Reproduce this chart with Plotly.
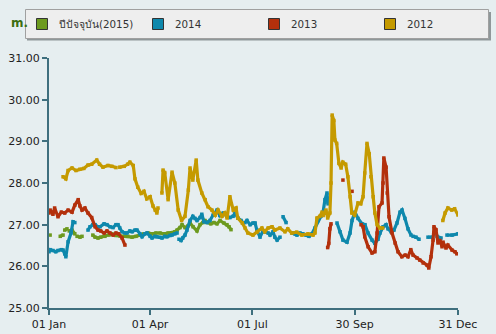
import plotly.graph_objects as go

# Day-of-year (0 = 01 Jan) and water level, None marks a gap in the record
days_2015 = [1, None, 10, 12.5, None, 14, 16, None, 18, 20.5, 23, None, 25, 27.6, 29.4, None,
             39, 41, 43.6, 46, 49.8, 53.4, 56, 59.6, 63, 66.8, 70.3, 73.9, 77.4, 81, 84.5, 88,
             91.7, 95.2, 98.8, 102.3, 106, 109.5, 112, 114, 116.6, 118.4, 121, 123.7, 125.5,
             128.2, 131.7, 134.4, 137, 138.8, 141.5, 144, 146.8, 149.5, 152.2, 155.7, 158.4,
             160.2, 162]
level_2015 = [26.75, None, 26.72, 26.75, None, 26.87, 26.9, None, 26.85, 26.87, 26.78, None,
              26.72, 26.70, 26.72, None,
              26.75, 26.70, 26.68, 26.70, 26.72, 26.75, 26.78, 26.74, 26.73, 26.72, 26.72,
              26.70, 26.72, 26.76, 26.78, 26.80, 26.78, 26.80, 26.80, 26.78, 26.80, 26.80,
              26.83, 26.87, 26.93, 27.00, 26.93, 26.97, 27.04, 26.95, 26.85, 27.00, 27.05,
              27.10, 27.05, 27.02, 27.05, 27.02, 27.10, 27.04, 27.00, 26.95, 26.88]

days_2014 = [0, 1, 3.5, 6, 8, 11, 12.5, 14, 15, 17, 19.6, 21.4, 23, None,
             34.7, 36.5, 39, 41, 43.6, 45.4, 49, 51.6, 54.3, 57, 59.6, 61.4, 63, 65, 67.6,
             69.4, 72, 74, 76.5, 78.3, 81, 82.8, 85.4, 87.2, 90, 91.7, 94.3, 96, 98.8, 100.6,
             103, 105, 107.7, 109.5, 112, 114, None,
             115.7, 117.5, 119, 121, 122.8, 125.5, 128, 130, 131.7, 134.4, 136, 137.9, 140.6,
             143.3, 146, 149.5, 152, 155, 158.4, 161, 163.8, 165.5, 168, 170.9, 172.7, 174.4,
             176.2, 179, 181.5, 183.4, 185, 187.8, 190.5, 192, 195, 196.7, 199.4, 201, 203,
             205.6, None, 208.3, 211, None,
             216.3, 219, 220.7, 223.4, 226, 228.7, 231.4, 234, 236.7, 239.4, 242, 243.9,
             245.6, 247.4, 248.3, None,
             256.3, 259, 261.6, 265.2, 267.9, 269.7, 272.3, 275, 278.6, 281.2, 283.9, 287.5,
             290, 292.8, 294.6, 297.3, 300, 301.7, 304.4, 307, 309.7, 312.4, 314.2, 316.8,
             319.5, 322.2, None, 324, 326.6, 329.3, None, 337.3, 340.9, None, 345.3, 348.9,
             None, 354.2, 358.7, 364]
level_2014 = [26.35, 26.40, 26.38, 26.35, 26.38, 26.40, 26.39, 26.30, 26.23, 26.59, 26.80,
              27.07, 27.05, None,
              26.87, 26.95, 27.00, 27.00, 26.95, 26.95, 27.02, 27.00, 26.95, 26.93, 27.00,
              27.00, 26.92, 26.83, 26.80, 26.80, 26.85, 26.83, 26.87, 26.87, 26.78, 26.71,
              26.78, 26.80, 26.72, 26.68, 26.72, 26.71, 26.70, 26.68, 26.72, 26.71, 26.74,
              26.75, 26.78, 26.80, None,
              26.65, 26.62, 26.68, 26.75, 26.87, 27.10, 27.20, 27.15, 27.10, 27.17, 27.25,
              27.07, 27.05, 27.10, 27.23, 27.35, 27.22, 27.28, 27.20, 27.17, 27.20, 27.28,
              27.16, 27.10, 27.04, 27.05, 27.10, 27.00, 27.04, 27.04, 26.87, 26.70, 26.85,
              26.83, 26.80, 26.75, 26.83, 26.70, 26.63, 26.70, None, 27.19, 27.05, None,
              26.80, 26.78, 26.75, 26.80, 26.78, 26.75, 26.72, 26.78, 26.92, 27.10, 27.20,
              27.30, 27.60, 27.76, 27.50, None,
              27.04, 26.83, 26.63, 26.58, 26.80, 27.10, 27.30, 27.15, 27.02, 27.00, 26.80,
              26.63, 26.55, 26.65, 26.80, 26.95, 27.00, 26.90, 26.83, 26.87, 27.04, 27.30,
              27.35, 27.15, 26.90, 26.75, None, 26.72, 26.70, 26.65, None, 26.70, 26.70, None,
              26.72, 26.68, None, 26.75, 26.75, 26.78]

days_2013 = [0, 1, 3.5, 5, 8, 11, 14, 17, 20.5, 23, 26, 27.5, 29.4, 32, 34.7, 38, 41, 43.6,
             46, 49, 51.6, 54.3, 57, 59.6, 62, 65, 67.6, None,
             248, 249, 250, 251, None, 261.6, None, 269.7, None,
             277.7, 279.5, 281, 284, 287.5, 290, 292, 293.7, 296.4, 297.3, 298, 300, 301,
             302.6, 305.3, 308, 310.6, 314, 317, 319.5, 322, 324, 327.5, 330, 333, 336.4,
             338, 340, 341.8, 342.6, 344.4, 346.2, 348, 349.8, 350.7, 353.3, 355, 358.7,
             361.3, 363]
level_2013 = [27.28, 27.35, 27.25, 27.40, 27.19, 27.30, 27.28, 27.35, 27.30, 27.47, 27.60,
              27.45, 27.35, 27.40, 27.28, 27.17, 26.95, 26.87, 26.85, 26.80, 26.85, 26.80,
              26.75, 26.80, 26.78, 26.68, 26.51, None,
              26.45, 26.55, 26.90, 27.02, None, 28.07, None, 27.80, None,
              27.00, 26.95, 26.71, 26.47, 26.32, 26.35, 26.80, 27.43, 27.52, 28.00, 28.60,
              28.38, 27.76, 27.19, 26.80, 26.56, 26.35, 26.23, 26.27, 26.23, 26.40, 26.27,
              26.20, 26.15, 26.08, 26.03, 25.96, 26.23, 26.63, 26.95, 26.88, 26.56, 26.62,
              26.47, 26.58, 26.44, 26.51, 26.39, 26.35, 26.30]

days_2012 = [12.5, 15, 17, 20.5, 24, 27.5, 31, 34.7, 38, 42.5, 45, 48, 52.5, 56, 59.6, None,
             63, 67, 70, 72, 75, 76.5, 79, 82, 84.5, 87, 90, 92.5, 94.5, 96, 97, None,
             100.5, 101.5, 103, 106, 109.5, 112, 115, 118, 121, 124, 125.5, 128, 131, 132.5,
             136, 139, 141.5, 145, 148, 150.5, 154, 156.5, 158.5, 161, 164, 166.5, 168, 172,
             174.5, 177, 181.5, 185, 189.5, 192, 195, 198.5, 201, 205.5, 210, 212.5, 216,
             220.5, 225, 230.5, 235, 236.7, 238.5, 241, 243, 244, 246.5, 248, 250, 251, 252,
             253.5, 254.5, 256, 258, 260, 261.5, 264, 266, 268, 269.5, 272, 275, 277.5,
             279.5, 281, 283, 285, 286.5, 288.5, 290, 292, 294.5, 297, None,
             350.5, 352.5, 355, 358.5, 361, 364]
level_2012 = [28.15, 28.10, 28.30, 28.36, 28.30, 28.33, 28.35, 28.43, 28.45, 28.55, 28.45,
              28.38, 28.42, 28.40, 28.37, None,
              28.38, 28.40, 28.45, 28.50, 28.42, 28.10, 27.90, 27.75, 27.80, 27.62, 27.67,
              27.45, 27.35, 27.28, 27.40, None,
              27.76, 28.31, 28.25, 27.60, 28.26, 28.00, 27.35, 27.10, 27.20, 27.83, 28.36,
              28.07, 28.55, 28.07, 27.76, 27.60, 27.43, 27.35, 27.23, 27.35, 27.20, 27.28,
              27.16, 27.67, 27.35, 27.40, 27.16, 27.04, 26.92, 26.80, 26.75, 26.82, 26.92,
              26.83, 26.92, 26.95, 26.87, 26.92, 26.83, 26.90, 26.80, 26.82, 26.75, 26.78,
              26.75, 26.80, 27.16, 27.20, 27.30, 27.22, 27.35, 27.16, 27.28, 28.00, 29.63,
              29.50, 29.03, 28.95, 28.47, 28.36, 28.50, 28.45, 28.15, 27.67, 27.28, 27.23,
              27.52, 27.50, 27.67, 28.24, 28.95, 28.70, 28.15, 27.67, 27.28, 27.00, 26.92,
              26.92, None,
              27.10, 27.28, 27.40, 27.35, 27.38, 27.23]

series_names = ["ปีปัจจุบัน(2015)", "2014", "2013", "2012"]
series_colors = ["#6d9a1f", "#0e88ac", "#b3300c", "#c59a00"]
series_days = [days_2015, days_2014, days_2013, days_2012]
series_levels = [level_2015, level_2014, level_2013, level_2012]

tick_days = [0, 90, 181, 272, 364]
tick_text = ["01 Jan", "01 Apr", "01 Jul", "30 Sep", "31 Dec"]
level_ticks = [25, 26, 27, 28, 29, 30, 31]

W, H = 496, 334
ML, MR, MT, MB = 49, 38, 58, 26
PW, PH = W - ML - MR, H - MT - MB

BG = "#e6eef0"
AXIS = "#3f6f7e"
FONT = "DejaVu Sans, Noto Sans, sans-serif"


def px(x):
    """pixel column -> paper x"""
    return (x - ML) / PW


def py(y):
    """pixel row -> paper y"""
    return (H - MB - y) / PH


fig = go.Figure()

for name, color, xs, ys in zip(series_names, series_colors, series_days, series_levels):
    fig.add_trace(go.Scatter(
        x=xs, y=ys, mode="lines+markers", name=name, showlegend=False,
        line=dict(color=color, width=3.2), marker=dict(color=color, size=3.5, symbol="square"),
        connectgaps=False, hoverinfo="skip",
    ))

# Legend box drawn by hand: shadow, frame, then a square swatch per series
shapes = [
    dict(type="rect", xref="paper", yref="paper", x0=px(27), x1=px(491), y0=py(40.5), y1=py(12),
         fillcolor="#8f9799", line=dict(width=0), layer="above"),
    dict(type="rect", xref="paper", yref="paper", x0=px(25.5), x1=px(488.5), y0=py(38.5),
         y1=py(9.5), fillcolor="#eeeeee", line=dict(color="#a0a0a0", width=1), layer="above"),
]
annotations = [dict(
    text="<b>m.</b>", xref="paper", yref="paper", x=px(8.5), y=py(23),
    xanchor="left", yanchor="middle", showarrow=False,
    font=dict(family=FONT, size=12, color="#3d6e10"),
)]
legend_step = 116
for i, (name, color) in enumerate(zip(series_names, series_colors)):
    x0 = 36.5 + i * legend_step
    shapes.append(dict(
        type="rect", xref="paper", yref="paper", x0=px(x0), x1=px(x0 + 11),
        y0=py(29.5), y1=py(18.5), fillcolor=color, line=dict(color="#333333", width=1),
        layer="above",
    ))
    annotations.append(dict(
        text=name, xref="paper", yref="paper", x=px(x0 + 20.5), y=py(24),
        xanchor="left", yanchor="middle", showarrow=False,
        font=dict(family=FONT, size=10.3, color="#333333"),
    ))

fig.update_layout(
    width=W, height=H,
    margin=dict(l=ML, r=MR, t=MT, b=MB),
    paper_bgcolor=BG, plot_bgcolor=BG,
    font=dict(family=FONT, size=11, color="#222222"),
    showlegend=False,
    xaxis=dict(
        range=[0, 364], tickvals=tick_days, ticktext=tick_text, automargin=False,
        showgrid=False, zeroline=False, showline=True, linecolor=AXIS, linewidth=2,
        ticks="outside", ticklen=5, tickwidth=2, tickcolor=AXIS,
        tickfont=dict(family=FONT, size=11, color="#222222"),
    ),
    yaxis=dict(
        range=[25, 31], tickvals=level_ticks, tickformat=".2f", automargin=False,
        showgrid=False, zeroline=False, showline=True, linecolor=AXIS, linewidth=2,
        ticks="outside", ticklen=5, tickwidth=2, tickcolor=AXIS,
        tickfont=dict(family=FONT, size=11, color="#222222"),
    ),
    annotations=annotations,
    shapes=shapes,
)

fig.write_html("out.html")
